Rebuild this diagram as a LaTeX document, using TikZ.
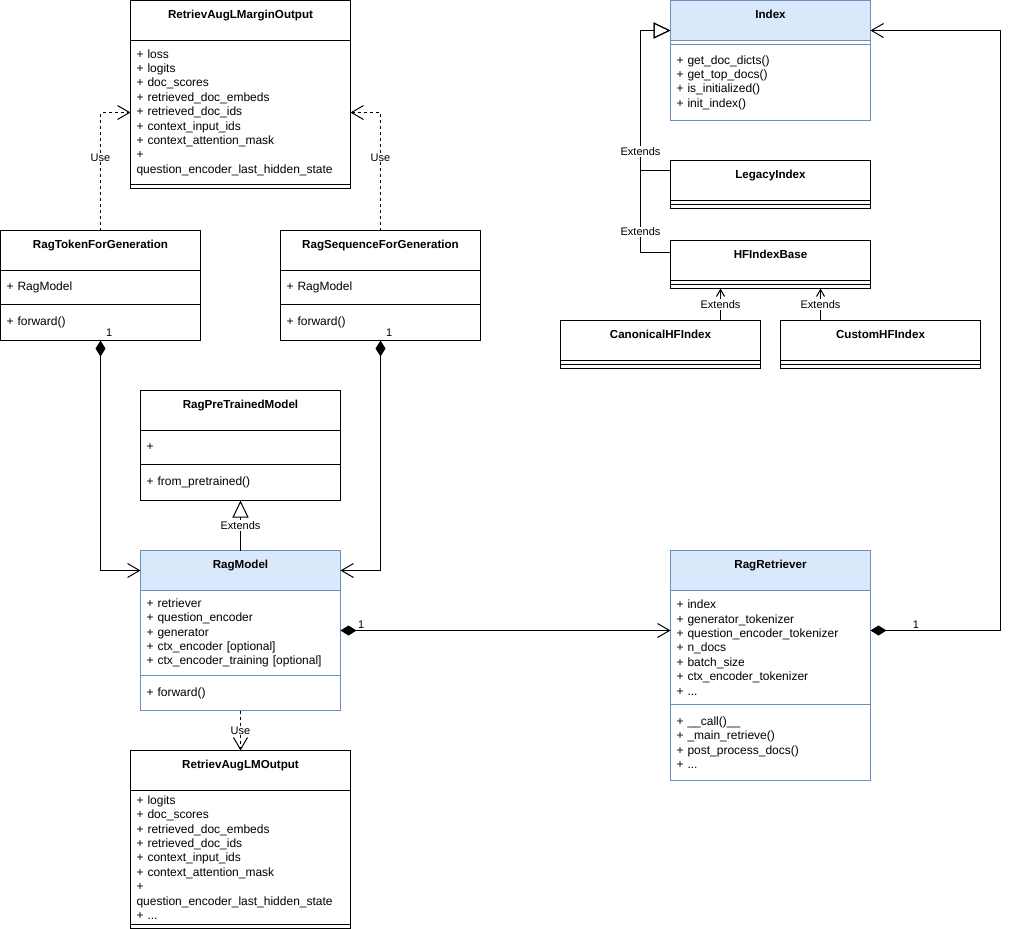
\documentclass[tikz,border=0pt]{standalone}
\usepackage{fontspec}
\setmainfont{Liberation Sans}
\usetikzlibrary{arrows.meta, positioning}
\definecolor{hdrblue}{HTML}{DAE8FC}
\definecolor{edgeblue}{HTML}{6C8EBF}

\begin{document}
\begin{tikzpicture}[
  x=1pt, y=-1pt,
  line width=1pt,
  font=\fontsize{12}{14.4}\selectfont,
  hdr/.style  ={draw, anchor=north west, minimum width=200pt, minimum height=40pt,
                inner sep=0pt, outer sep=0pt, text height=18pt, text depth=22pt,
                font=\fontsize{11.6}{14}\selectfont\bfseries},
  sec/.style  ={draw, minimum width=200pt, text width=188pt, align=left,
                inner xsep=6pt, inner ysep=0pt, outer sep=0pt},
  gap/.style  ={draw, minimum width=200pt, minimum height=4pt, inner sep=0pt, outer sep=0pt},
  wide/.style ={minimum width=220pt, text width=208pt},
  blu/.style  ={draw=edgeblue},
  % edge styles ------------------------------------------------------
  use/.style  ={dash pattern=on 3pt off 3pt, -{Straight Barb[length=12pt, width=14pt]}},
  ext/.style  ={-{Triangle[open, length=17pt, width=16pt]}},
  extsm/.style={-{Straight Barb[length=7pt, width=8pt]}},
  comp/.style ={{Diamond[length=16pt, width=10pt]}-{Straight Barb[length=12pt, width=14pt]}},
  lbl/.style  ={fill=white, inner sep=1pt, font=\fontsize{11}{13}\selectfont},
  mult/.style ={inner sep=2pt, font=\fontsize{11}{13}\selectfont},
]
\useasboundingbox (-0.5,-0.5) rectangle (1017.5,928.5);

% =========================== OUTPUT CLASSES =========================
\node[hdr, minimum width=220pt] (marginH) at (130,0) {RetrievAugLMarginOutput};
\node[sec, wide, minimum height=144pt, below=0pt of marginH] (marginA)
  {+ loss\\+ logits\\+ doc\_scores\\+ retrieved\_doc\_embeds\\+ retrieved\_doc\_ids\\
   + context\_input\_ids\\+ context\_attention\_mask\\+\\question\_encoder\_last\_hidden\_state};
\node[gap, minimum width=220pt, below=0pt of marginA] (marginM) {};

\node[hdr, minimum width=220pt] (lmH) at (130,750) {RetrievAugLMOutput};
\node[sec, wide, minimum height=134pt, below=0pt of lmH] (lmA)
  {+ logits\\+ doc\_scores\\+ retrieved\_doc\_embeds\\+ retrieved\_doc\_ids\\
   + context\_input\_ids\\+ context\_attention\_mask\\+\\question\_encoder\_last\_hidden\_state\\+ ...};
\node[gap, minimum width=220pt, below=0pt of lmA] (lmM) {};

% =========================== GENERATION CLASSES =====================
\node[hdr] (tokH) at (0,230) {RagTokenForGeneration};
\node[sec, minimum height=34pt, below=0pt of tokH] (tokA) {+ RagModel};
\node[sec, minimum height=36pt, below=0pt of tokA] (tokM) {+ forward()};

\node[hdr] (seqH) at (280,230) {RagSequenceForGeneration};
\node[sec, minimum height=34pt, below=0pt of seqH] (seqA) {+ RagModel};
\node[sec, minimum height=36pt, below=0pt of seqA] (seqM) {+ forward()};

% =========================== MODEL ==================================
\node[hdr] (preH) at (140,390) {RagPreTrainedModel};
\node[sec, minimum height=34pt, below=0pt of preH] (preA) {+};
\node[sec, minimum height=36pt, below=0pt of preA] (preM) {+ from\_pretrained()};

\node[hdr, blu, fill=hdrblue] (ragH) at (140,550) {RagModel};
\node[sec, blu, minimum height=85pt, below=0pt of ragH] (ragA)
  {+ retriever\\+ question\_encoder\\+ generator\\+ ctx\_encoder [optional]\\
   + ctx\_encoder\_training [optional]};
\node[sec, blu, minimum height=35pt, below=0pt of ragA] (ragM) {+ forward()};

% =========================== RETRIEVER ==============================
\node[hdr, blu, fill=hdrblue] (retH) at (670,550) {RagRetriever};
\node[sec, blu, minimum height=114pt, below=0pt of retH] (retA)
  {+ index\\+ generator\_tokenizer\\+ question\_encoder\_tokenizer\\+ n\_docs\\
   + batch\_size\\+ ctx\_encoder\_tokenizer\\+ ...};
\node[sec, blu, minimum height=76pt, below=0pt of retA] (retM)
  {+ \_\_call()\_\_\\+ \_main\_retrieve()\\+ post\_process\_docs()\\+ ...};

% =========================== INDEX CLASSES ==========================
\node[hdr, blu, fill=hdrblue] (idxH) at (670,0) {Index};
\node[gap, blu, below=0pt of idxH] (idxA) {};
\node[sec, blu, minimum height=76pt, below=0pt of idxA] (idxM)
  {+ get\_doc\_dicts()\\+ get\_top\_docs()\\+ is\_initialized()\\+ init\_index()};

\node[hdr] (legH) at (670,160) {LegacyIndex};
\node[gap, below=0pt of legH] (legA) {};
\node[gap, below=0pt of legA] (legM) {};

\node[hdr] (hfbH) at (670,240) {HFIndexBase};
\node[gap, below=0pt of hfbH] (hfbA) {};
\node[gap, below=0pt of hfbA] (hfbM) {};

\node[hdr] (canH) at (560,320) {CanonicalHFIndex};
\node[gap, below=0pt of canH] (canA) {};
\node[gap, below=0pt of canA] (canM) {};

\node[hdr] (cusH) at (780,320) {CustomHFIndex};
\node[gap, below=0pt of cusH] (cusA) {};
\node[gap, below=0pt of cusA] (cusM) {};

% =========================== USE (dashed) ===========================
\draw[use] (tokH.north) |- node[lbl, pos=0.31] {Use} (marginA.west);
\draw[use] (seqH.north) |- node[lbl, pos=0.31] {Use} (marginA.east);
\draw[use] (ragM.south) -- node[lbl] {Use} (lmH.north);

% =========================== COMPOSITION ============================
\draw[comp] (tokM.south) |- node[mult, pos=0, anchor=south west, xshift=3pt, yshift=2pt] {1} (ragH.west);
\draw[comp] (seqM.south) |- node[mult, pos=0, anchor=south west, xshift=3pt, yshift=2pt] {1} (ragH.east);

\coordinate (ragC) at ([yshift=2.5pt]ragA.east);
\draw[comp] (ragC) -- node[mult, pos=0, anchor=south west, xshift=15pt] {1} (ragC -| retA.west);

\coordinate (retC) at ([yshift=17pt]retA.east);
\coordinate (idxC) at ([yshift=-10pt]idxH.east);
\draw[comp] (retC) -- node[mult, above, pos=0.35] {1} ++(130,0) |- (idxC);

% =========================== EXTENDS ================================
\draw[ext] (ragH.north) -- node[lbl] {Extends} (preM.south);

\coordinate (legC) at ([yshift=10pt]legH.west);
\coordinate (hfbC) at ([yshift=8pt]hfbH.west);
\coordinate (idxW) at ([yshift=-10pt]idxH.west);
\draw[ext] (hfbC) -- ++(-30,0) |- node[lbl, pos=0.047] {Extends} (idxW);
\draw[ext] (legC) -- ++(-30,0) |- node[lbl, pos=0.068] {Extends} (idxW);

\coordinate (canC) at ([xshift=60pt]canH.north);
\coordinate (cusC) at ([xshift=-60pt]cusH.north);
\draw[extsm] (canC) -- node[lbl] {Extends} (canC |- hfbM.south);
\draw[extsm] (cusC) -- node[lbl] {Extends} (cusC |- hfbM.south);

\end{tikzpicture}
\end{document}
